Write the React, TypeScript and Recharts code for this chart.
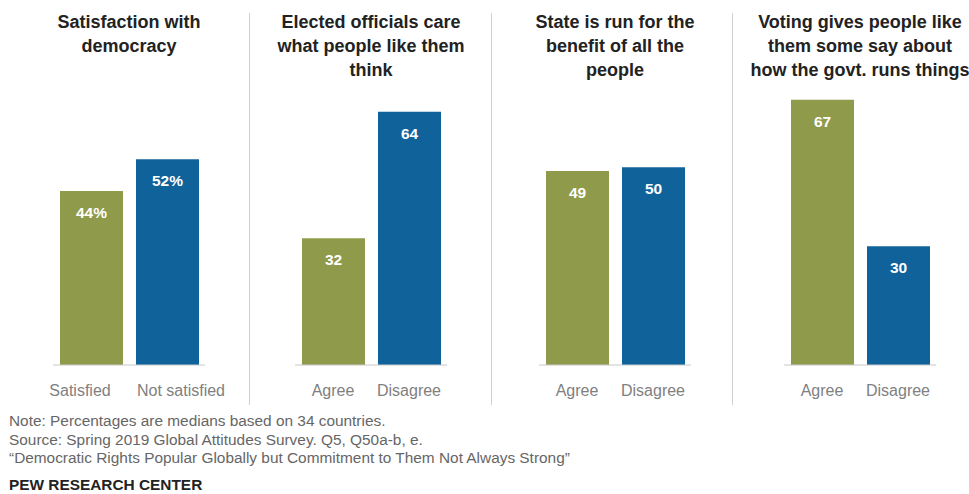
import { Bar, BarChart, Cell, LabelList, XAxis, YAxis } from "recharts";

const titles = [
  ["Satisfaction with", "democracy"],
  ["Elected officials care", "what people like them", "think"],
  ["State is run for the", "benefit of all the", "people"],
  ["Voting gives people like", "them some say about", "how the govt. runs things"],
];
const categories = [
  ["Satisfied", "Not satisfied"],
  ["Agree", "Disagree"],
  ["Agree", "Disagree"],
  ["Agree", "Disagree"],
];
const values = [
  [44, 52],
  [32, 64],
  [49, 50],
  [67, 30],
];
const showPercent = [true, false, false, false];

const notes = [
  "Note: Percentages are medians based on 34 countries.",
  "Source: Spring 2019 Global Attitudes Survey. Q5, Q50a-b, e.",
  "\u201cDemocratic Rights Popular Globally but Commitment to Them Not Always Strong\u201d",
];

const GREEN = "#8f9a4a";
const BLUE = "#10629a";
const FONT = "'Liberation Sans', Arial, sans-serif";
const PANEL_LEFT = [53, 295, 539, 784];
const SEPARATORS = [249, 491, 732];
const PAD = 40;

// first panel's labels are wide, so they get pushed apart a bit
function Tick(props: any) {
  const { x, y, payload, panel } = props;
  const shift = panel === 0 ? (payload.index === 0 ? -11 : 14) : 0;
  return (
    <text
      x={x + shift}
      y={y}
      dy="0.71em"
      textAnchor="middle"
      fill="#808080"
      fontSize={16}
      fontFamily={FONT}
    >
      {payload.value}
    </text>
  );
}

function Panel({ idx }: { idx: number }) {
  const data = categories[idx].map((c, i) => ({ name: c, value: values[idx][i] }));
  const left = PANEL_LEFT[idx];
  return (
    <>
      <div
        style={{
          position: "absolute",
          left: left - 60,
          width: 272,
          top: 10,
          textAlign: "center",
          fontFamily: FONT,
          fontWeight: 700,
          fontSize: 18,
          lineHeight: "24px",
          color: "#222",
        }}
      >
        {titles[idx].map((t, i) => (
          <div key={i}>{t}</div>
        ))}
      </div>
      <div style={{ position: "absolute", left: left - PAD, top: 0 }}>
        <BarChart
          width={152 + PAD * 2}
          height={405}
          data={data}
          margin={{ top: 88, right: PAD, bottom: 0, left: PAD }}
          barCategoryGap={13}
        >
          <YAxis hide domain={[0, 70]} />
          <XAxis
            dataKey="name"
            axisLine={{ stroke: "#c8c8c8" }}
            tickLine={false}
            tickSize={0}
            tickMargin={20}
            height={40}
            tick={<Tick panel={idx} />}
            interval={0}
          />
          <Bar dataKey="value" barSize={63} isAnimationActive={false}>
            {data.map((_, i) => (
              <Cell key={i} fill={i === 0 ? GREEN : BLUE} />
            ))}
            <LabelList
              dataKey="value"
              position="insideTop"
              offset={16}
              fill="#fff"
              fontSize={15.5}
              fontWeight={700}
              fontFamily={FONT}
              formatter={(v: any) => (showPercent[idx] ? `${v}%` : `${v}`)}
            />
          </Bar>
        </BarChart>
      </div>
    </>
  );
}

export default function App() {
  return (
    <div
      style={{
        position: "absolute",
        left: 0,
        top: 0,
        width: 969,
        height: 494,
        background: "#fff",
        fontFamily: FONT,
      }}
    >
      {SEPARATORS.map((x) => (
        <div
          key={x}
          style={{ position: "absolute", left: x, top: 13, width: 1, height: 392, background: "#cfcfcf" }}
        />
      ))}
      {[0, 1, 2, 3].map((i) => (
        <Panel key={i} idx={i} />
      ))}
      <div
        style={{
          position: "absolute",
          left: 9,
          top: 412,
          fontSize: 15.4,
          lineHeight: "18.5px",
          color: "#666",
        }}
      >
        {notes.map((n, i) => (
          <div key={i}>{n}</div>
        ))}
        <div style={{ marginTop: 8, fontWeight: 700, color: "#222" }}>PEW RESEARCH CENTER</div>
      </div>
    </div>
  );
}
